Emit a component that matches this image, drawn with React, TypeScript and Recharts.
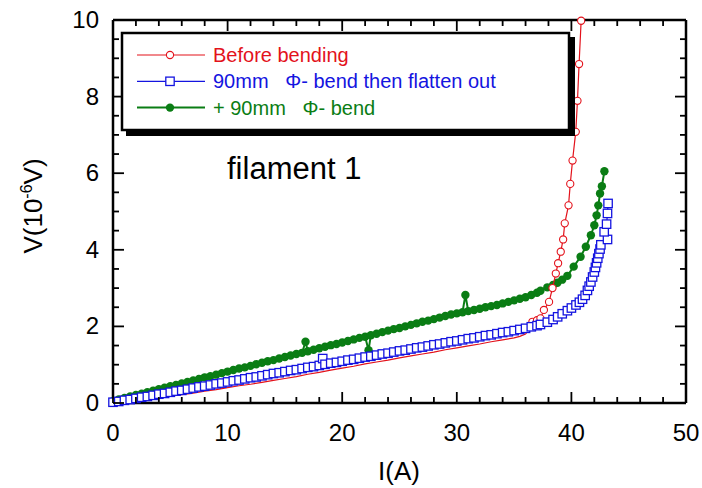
import React from "react";
import { ScatterChart, Scatter, XAxis, YAxis } from "recharts";

const RED = "#e3121b";
const BLUE = "#1414e0";
const GREEN = "#0a7d14";
const FONT = "'Liberation Sans', Arial, sans-serif";

const xTicks = [0, 2, 4, 6, 8, 10, 12, 14, 16, 18, 20, 22, 24, 26, 28, 30, 32, 34, 36, 38, 40, 42, 44, 46, 48, 50];
const yTicks = [0, 0.5, 1, 1.5, 2, 2.5, 3, 3.5, 4, 4.5, 5, 5.5, 6, 6.5, 7, 7.5, 8, 8.5, 9, 9.5, 10];

const legendLabels = ["Before bending", "90mm   \u03A6- bend then flatten out", "+ 90mm   \u03A6- bend"];
const chartNote = "filament 1";

// Before bending: [I (A), V (1e-6 V)]
const beforePairs: number[][] = [
  [0, 0], [1, 0.03], [2, 0.07], [3, 0.1], [4, 0.14], [5, 0.18], [6, 0.22], [7, 0.26], [8, 0.31], [9, 0.35],
  [10, 0.4], [11, 0.45], [12, 0.49], [13, 0.54], [14, 0.59], [15, 0.64], [16, 0.69], [17, 0.75], [18, 0.8], [19, 0.86],
  [20, 0.91], [21, 0.96], [22, 1.02], [23, 1.07], [24, 1.12], [25, 1.18], [26, 1.23], [27, 1.28], [28, 1.33], [29, 1.39],
  [30, 1.44], [31, 1.49], [32, 1.54], [33, 1.6], [34, 1.65], [35, 1.7], [35.5, 1.74], [36, 1.8], [36.3, 1.92],
  [36.6, 2.12], [37.0, 2.16], [37.3, 2.21], [37.6, 2.43], [38.05, 2.64], [38.35, 3.0], [38.64, 3.38], [38.84, 3.65],
  [39.07, 3.95], [39.28, 4.27], [39.42, 4.69], [39.75, 5.16], [39.9, 5.72], [40.1, 6.33], [40.38, 7.08], [40.53, 7.89],
  [40.67, 8.85], [40.85, 9.98],
];

// 90mm Φ- bend then flatten out
const flatPairs: number[][] = [
  [0, 0.02], [0.5, 0.04], [1, 0.07], [1.5, 0.09], [2, 0.12], [2.5, 0.15], [3, 0.17], [3.5, 0.2], [4, 0.23], [4.5, 0.25],
  [5, 0.28], [5.5, 0.31], [6, 0.33], [6.5, 0.36], [7, 0.39], [7.5, 0.42], [8, 0.44], [8.5, 0.47], [9, 0.5], [9.5, 0.52],
  [10, 0.55], [10.5, 0.58], [11, 0.6], [11.5, 0.63], [12, 0.66], [12.5, 0.68], [13, 0.71], [13.5, 0.74], [14, 0.77], [14.5, 0.79],
  [15, 0.82], [15.5, 0.85], [16, 0.87], [16.5, 0.9], [17, 0.93], [17.5, 0.95], [18, 0.98], [18.3, 1.16], [18.5, 1.01], [19, 1.04],
  [19.5, 1.06], [20, 1.09], [20.5, 1.12], [21, 1.14], [21.5, 1.17], [22, 1.2], [22.5, 1.22], [23, 1.25], [23.5, 1.28], [24, 1.3],
  [24.5, 1.33], [25, 1.36], [25.5, 1.38], [26, 1.41], [26.5, 1.44], [27, 1.46], [27.5, 1.49], [28, 1.52], [28.5, 1.54], [29, 1.57],
  [29.5, 1.6], [30, 1.62], [30.5, 1.65], [31, 1.68], [31.5, 1.7], [32, 1.73], [32.5, 1.76], [33, 1.78], [33.5, 1.81], [34, 1.84],
  [34.5, 1.86], [35, 1.89], [35.5, 1.92], [36, 1.95], [36.5, 1.99], [37, 2.02], [37.3, 2.05], [37.9, 2.11], [38.4, 2.18], [38.8, 2.25],
  [39.2, 2.33], [39.65, 2.41], [40.0, 2.48], [40.4, 2.56], [40.7, 2.63], [40.97, 2.71], [41.2, 2.81], [41.4, 2.94], [41.55, 3.05], [41.7, 3.16],
  [41.85, 3.29], [42.0, 3.42], [42.1, 3.54], [42.2, 3.66], [42.3, 3.78], [42.4, 3.9], [42.5, 4.02], [42.57, 4.13], [43.15, 4.27], [42.86, 4.47],
  [43.07, 4.67], [43.15, 4.95], [43.2, 5.21],
];

// + 90mm Φ- bend
const bendPairs: number[][] = [
  [0, 0.05], [0.5, 0.09], [1, 0.13], [1.5, 0.17], [2, 0.21], [2.5, 0.24], [3, 0.28], [3.5, 0.32], [4, 0.36], [4.5, 0.4],
  [5, 0.44], [5.5, 0.47], [6, 0.51], [6.5, 0.55], [7, 0.59], [7.5, 0.63], [8, 0.67], [8.5, 0.7], [9, 0.74], [9.5, 0.78],
  [10, 0.82], [10.5, 0.86], [11, 0.9], [11.5, 0.93], [12, 0.97], [12.5, 1.01], [13, 1.05], [13.5, 1.09], [14, 1.12], [14.5, 1.16],
  [15, 1.2], [15.5, 1.24], [16, 1.28], [16.5, 1.31], [16.8, 1.6], [17, 1.35], [17.5, 1.39], [18, 1.43], [18.5, 1.47], [19, 1.51],
  [19.5, 1.54], [20, 1.58], [20.5, 1.62], [21, 1.66], [21.5, 1.7], [22, 1.73], [22.3, 1.38], [22.5, 1.77], [23, 1.81], [23.5, 1.85],
  [24, 1.89], [24.5, 1.93], [25, 1.96], [25.5, 2.0], [26, 2.04], [26.5, 2.08], [27, 2.12], [27.5, 2.15], [28, 2.19], [28.5, 2.23],
  [29, 2.27], [29.5, 2.31], [30, 2.34], [30.5, 2.37], [30.75, 2.82], [31, 2.4], [31.5, 2.43], [32, 2.46], [32.5, 2.5],
  [33, 2.53], [33.5, 2.56], [34, 2.6], [34.5, 2.64], [35, 2.68], [35.5, 2.72], [36, 2.76], [36.5, 2.82], [37, 2.88], [37.3, 2.93],
  [37.9, 3.02], [38.4, 3.08], [38.78, 3.14], [39.2, 3.22], [39.65, 3.32], [40.2, 3.56], [40.8, 3.82], [41.26, 4.08], [41.7, 4.38], [42.0, 4.64],
  [42.2, 4.9], [42.35, 5.16], [42.5, 5.47], [42.66, 5.66], [42.88, 6.05],
];

const toRows = (pairs: number[][]) => pairs.map(([I, V]) => ({ I, V }));
const beforeData = toRows(beforePairs);
const flatData = toRows(flatPairs);
const bendData = toRows(bendPairs);

const TW = 1.8;

const BottomTick = (p: any) => {
  const v = p.payload.value;
  const major = v % 10 === 0;
  return (
    <g>
      <line x1={p.x} x2={p.x} y1={p.y} y2={p.y - (major ? 11 : 6)} stroke="#000" strokeWidth={TW} />
      {major ? (
        <text x={p.x} y={p.y + 38} textAnchor="middle" fontSize={24} fontFamily={FONT} fill="#000">{v}</text>
      ) : null}
    </g>
  );
};
const TopTick = (p: any) => {
  const v = p.payload.value;
  const major = v % 10 === 0;
  return <line x1={p.x} x2={p.x} y1={p.y} y2={p.y + (major ? 11 : 6)} stroke="#000" strokeWidth={TW} />;
};
const LeftTick = (p: any) => {
  const v = p.payload.value;
  const major = v % 2 === 0;
  return (
    <g>
      <line x1={p.x} x2={p.x + (major ? 11 : 6)} y1={p.y} y2={p.y} stroke="#000" strokeWidth={TW} />
      {major ? (
        <text x={p.x - 14} y={p.y + 8} textAnchor="end" fontSize={24} fontFamily={FONT} fill="#000">{v}</text>
      ) : null}
    </g>
  );
};
const RightTick = (p: any) => {
  const v = p.payload.value;
  const major = v % 2 === 0;
  return <line x1={p.x} x2={p.x - (major ? 11 : 6)} y1={p.y} y2={p.y} stroke="#000" strokeWidth={TW} />;
};

const RedDot = (p: any) =>
  p.payload && p.payload.V >= 2 ? (
    <circle cx={p.cx} cy={p.cy} r={3.6} fill="#fff" stroke={RED} strokeWidth={1.1} />
  ) : (
    <g />
  );
const BlueSq = (p: any) => (
  <rect x={p.cx - 4.2} y={p.cy - 4.2} width={8.4} height={8.4} fill="#fff" stroke={BLUE} strokeWidth={1.3} />
);
const GreenDot = (p: any) => <circle cx={p.cx} cy={p.cy} r={4.2} fill={GREEN} />;

const axisLine = { stroke: "#000", strokeWidth: 2.5 };

export default function App() {
  return (
    <div style={{ position: "fixed", left: 0, top: 0, width: 702, height: 488, background: "#fff" }}>
      <ScatterChart width={702} height={488} margin={{ top: 19, right: 15, bottom: 84, left: 112 }}>
        <XAxis xAxisId="b" type="number" dataKey="I" domain={[0, 50]} ticks={xTicks} interval={0} height={1}
          tickSize={0} tickMargin={0} tickLine={false} axisLine={axisLine} tick={BottomTick} />
        <XAxis xAxisId="t" orientation="top" type="number" dataKey="I" domain={[0, 50]} allowDataOverflow ticks={xTicks}
          interval={0} height={1} tickSize={0} tickMargin={0} tickLine={false} axisLine={axisLine} tick={TopTick} />
        <YAxis yAxisId="l" type="number" dataKey="V" domain={[0, 10]} ticks={yTicks} interval={0} width={1}
          tickSize={0} tickMargin={0} tickLine={false} axisLine={axisLine} tick={LeftTick} />
        <YAxis yAxisId="r" orientation="right" type="number" dataKey="V" domain={[0, 10]} allowDataOverflow ticks={yTicks}
          interval={0} width={1} tickSize={0} tickMargin={0} tickLine={false} axisLine={axisLine} tick={RightTick} />
        <Scatter xAxisId="b" yAxisId="l" data={bendData} line={{ stroke: GREEN, strokeWidth: 2 }} lineType="joint"
          shape={GreenDot} isAnimationActive={false} />
        <Scatter xAxisId="b" yAxisId="l" data={beforeData} line={{ stroke: RED, strokeWidth: 1.2 }} lineType="joint"
          shape={RedDot} isAnimationActive={false} />
        <Scatter xAxisId="b" yAxisId="l" data={flatData} line={{ stroke: BLUE, strokeWidth: 1.2 }} lineType="joint"
          shape={BlueSq} isAnimationActive={false} />
      </ScatterChart>
      <svg width={702} height={488} style={{ position: "absolute", left: 0, top: 0, pointerEvents: "none" }}>
        <text transform="rotate(-90)" x={-206} y={42} textAnchor="middle" fontSize={26} fontFamily={FONT} fill="#000">
          V(10<tspan dy={-10} fontSize={16}>-6</tspan><tspan dy={10}>V)</tspan>
        </text>
        <text x={399} y={480} textAnchor="middle" fontSize={26} fontFamily={FONT} fill="#000">I(A)</text>
        <text x={227} y={179} fontSize={31} fontFamily={FONT} fill="#000">{chartNote}</text>
        <rect x={126} y={37} width={449} height={99} fill="#000" />
        <rect x={122} y={33} width={447} height={97} fill="#fff" stroke="#000" strokeWidth={2.5} />
        {[RED, BLUE, GREEN].map((c, i) => {
          const cy = 55 + i * 26.3;
          return (
            <g key={i}>
              <line x1={137} x2={205} y1={cy} y2={cy} stroke={c} strokeWidth={i === 2 ? 2 : 1.2} />
              {i === 0 ? <circle cx={170} cy={cy} r={3.6} fill="#fff" stroke={c} strokeWidth={1.1} /> : null}
              {i === 1 ? <rect x={165.8} y={cy - 4.2} width={8.4} height={8.4} fill="#fff" stroke={c} strokeWidth={1.3} /> : null}
              {i === 2 ? <circle cx={170} cy={cy} r={4.2} fill={c} /> : null}
              <text x={213} y={cy + 7} fontSize={20} fontFamily={FONT} fill={c} style={{ whiteSpace: "pre" }}>
                {legendLabels[i]}
              </text>
            </g>
          );
        })}
      </svg>
    </div>
  );
}
